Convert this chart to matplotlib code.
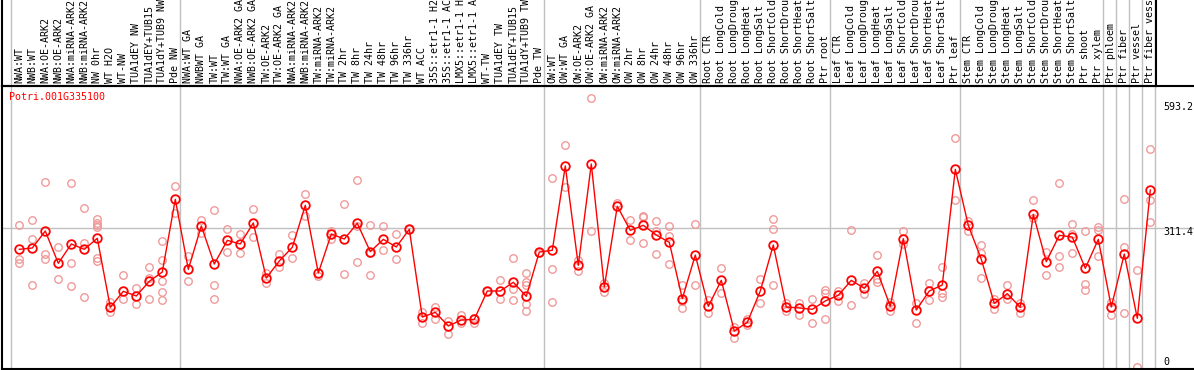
import matplotlib
matplotlib.use("Agg")
import matplotlib.pyplot as plt

title = "Potri.001G335100"

labels = [
    "NWA:WT", "NWB:WT", "NWA:OE-ARK2", "NWB:OE-ARK2", "NWA:miRNA-ARK2", "NWB:miRNA-ARK2",
    "NW 0hr", "WT H2O", "WT-NW", "TUA1dEY NW", "TUA1dEY+TUB15", "TUA1dY+TUB9 NW", "Pde NW",
    "NWA:WT GA", "NWBWT GA", "TW:WT", "TW:WT GA", "NWA:OE-ARK2 GA", "NWB:OE-ARK2 GA",
    "TW:OE-ARK2", "TW:OE-ARK2 GA", "NWA:miRNA-ARK2", "NWB:miRNA-ARK2", "TW:miRNA-ARK2",
    "TW:miRNA-ARK2", "TW 2hr", "TW 8hr", "TW 24hr", "TW 48hr", "TW 96hr", "TW 336hr",
    "WT ACC", "35S::etr1-1 H2", "35S::etr1-1 AC", "LMX5::etr1-1 H", "LMX5::etr1-1 A",
    "WT-TW", "TUA1dEY TW", "TUA1dEY+TUB15", "TUA1dY+TUB9 TW", "Pde TW",
    "OW:WT", "OW:WT GA", "OW:OE-ARK2", "OW:OE-ARK2 GA", "OW:miRNA-ARK2", "OW:miRNA-ARK2",
    "OW 2hr", "OW 8hr", "OW 24hr", "OW 48hr", "OW 96hr", "OW 336hr",
    "Root CTR", "Root LongCold", "Root LongDroug", "Root LongHeat", "Root LongSalt",
    "Root ShortCold", "Root ShortDrou", "Root ShortHeat", "Root ShortSalt", "Ptr root",
    "Leaf CTR", "Leaf LongCold", "Leaf LongDroug", "Leaf LongHeat", "Leaf LongSalt",
    "Leaf ShortCold", "Leaf ShortDrou", "Leaf ShortHeat", "Leaf ShortSalt", "Ptr leaf",
    "Stem CTR", "Stem LongCold", "Stem LongDroug", "Stem LongHeat", "Stem LongSalt",
    "Stem ShortCold", "Stem ShortDrou", "Stem ShortHeat", "Stem ShortSalt", "Ptr shoot",
    "Ptr xylem", "Ptr phloem", "Ptr fiber", "Ptr vessel", "Ptr fiber vess",
]

means = [
    262.9, 265.9, 304.0, 231.5, 274.9, 262.9, 287.6, 132.8, 168.7, 158.2, 191.1, 212.0, 375.1,
    218.0, 315.3, 230.0, 283.0, 274.9, 322.0, 198.6, 236.7, 267.4, 361.6, 209.8, 297.3, 286.0,
    321.2, 257.7, 285.3, 268.2, 307.8, 111.0, 121.5, 90.9, 104.3, 105.8, 169.4, 169.4, 188.9,
    157.5, 256.9,
    260.7, 449.9, 227.0, 454.4, 178.4, 359.4, 305.5, 316.8, 295.0, 278.6, 152.2, 250.1,
    135.0, 193.3, 79.7, 99.1, 169.4, 272.6, 133.5, 131.3, 128.3, 147.0,
    159.7, 193.3, 175.5, 213.5, 135.0, 286.8, 126.8, 169.4, 182.9, 442.4,
    316.8, 240.5, 141.7, 163.4, 132.8, 341.4, 235.2, 294.3, 290.5, 220.3, 285.3,
    133.5, 252.4, 108.1, 396.0,
]

replicates = [
    [317, 241, 232], [329, 286, 183], [413, 252, 241], [267, 196], [411, 232, 181],
    [355, 276, 157], [330, 323, 317, 312, 243, 236], [145, 123], [205, 151], [176, 140],
    [223, 199, 151], [281, 239, 191, 167, 149], [406, 344],
    [247, 191], [329, 299], [351, 182, 152], [308, 258], [297, 254], [353, 290], [209, 188],
    [252, 223], [295, 243], [386, 338], [203], [304, 287], [364, 208], [419, 315, 234],
    [318, 254, 205], [315, 261], [297, 241], [309], [123, 97], [134, 106], [103, 72],
    [116, 98], [109, 97], [169], [193, 151], [243, 173, 149], [210, 189, 183, 140, 124], [254],
    [422, 218, 144], [496, 402], [238, 214], [602, 303], [187, 168], [367], [328, 283],
    [338, 335, 276], [326, 303, 252], [315, 293, 230], [182, 148, 131], [320, 183],
    [149, 119], [220, 166], [88, 65], [107, 92], [196, 142], [330, 308, 183], [142, 125],
    [142, 115], [151, 98], [172, 164, 106],
    [169, 146], [306, 137], [187, 162], [250, 196, 190], [145, 125], [303, 275], [142, 97],
    [187, 149], [223, 164, 155], [512, 373],
    [327, 305], [272, 254, 198], [152, 130], [182, 151], [142, 119], [373, 333], [257, 205],
    [411, 249, 224], [319, 298, 254], [303, 186, 172], [312, 306, 249],
    [145, 115], [375, 267, 119], [216, 0], [487, 373, 324],
]

group_ends = [-1, 12, 40, 52, 62, 72, 83, 84, 85, 86, 87]
yticks = [593.2, 311.4, 0]
ref_line = 311.4

W, H = 1194, 370
fig = plt.figure(figsize=(W / 100, H / 100), dpi=100)

# pixel geometry
x0_px, dx_px = 19.3, 13.0
left_px, right_px, lab_right_px = 1.7, 1194.0, 1156.0
top_px, bot_px = 86.0, 369.0
zero_px, scale = 366.5, 0.4457

def px2i(p):
    return (p - x0_px) / dx_px

xl, xr = px2i(left_px), px2i(right_px)
ylo = (zero_px - bot_px) / scale
yhi = (zero_px - top_px) / scale

ax = fig.add_axes([left_px / W, 1 - bot_px / H, (right_px - left_px) / W, (bot_px - top_px) / H])
ax.set_xlim(xl, xr)
ax.set_ylim(ylo, yhi)
ax.set_xticks([])
ax.set_yticks([])
for s in ["left", "bottom", "top"]:
    ax.spines[s].set_color("black")
    ax.spines[s].set_linewidth(1.5)
ax.spines["right"].set_visible(False)

lab = fig.add_axes([left_px / W, 1 - top_px / H, (lab_right_px - left_px) / W, top_px / H])
lab.set_xlim(xl, px2i(lab_right_px))
lab.set_ylim(0, top_px)
lab.set_xticks([])
lab.set_yticks([])
lab.patch.set_alpha(0)
lab.spines["top"].set_visible(False)
for s in ["left", "right", "bottom"]:
    lab.spines[s].set_color("black")
    lab.spines[s].set_linewidth(1.5)

grey = "#c0c0c0"
for g in group_ends:
    xs = g + 0.36
    ax.axvline(xs, color=grey, lw=1.0, zorder=1)
    lab.axvline(xs, color=grey, lw=1.0, zorder=1)
ax.axhline(ref_line, color=grey, lw=1.0, zorder=1)

font = dict(family="DejaVu Sans Mono", fontsize=7.2)
for i, name in enumerate(labels):
    lab.text(i, 3.0, name, rotation=90, ha="center", va="bottom", color="black", **font)

# replicates
rx, ry = [], []
for i, reps in enumerate(replicates):
    for v in reps:
        rx.append(i)
        ry.append(v)
ax.plot(rx, ry, linestyle="none", marker="o", ms=5.4, mfc="none", mec="#f09a9a", mew=1.0, zorder=2)

xs = list(range(len(means)))
ax.plot(xs, means, color="#ff0000", lw=1.0, zorder=3)
ax.plot(xs, means, linestyle="none", marker="o", ms=6.2, mfc="none", mec="#ff0000", mew=1.3, zorder=4)

ax.text(px2i(9.3), (zero_px - 97) / scale, title, color="#ff0000", ha="left", va="center", **font)

for v in yticks:
    ycen = v - 4.6 / scale
    if v == 0:
        ycen = (zero_px - 362) / scale
    ax.text(px2i(1163), ycen, f"{v:g}" if v != 0 else "0", ha="left", va="center", color="black", **font)

fig.savefig("out.png", dpi=100)
